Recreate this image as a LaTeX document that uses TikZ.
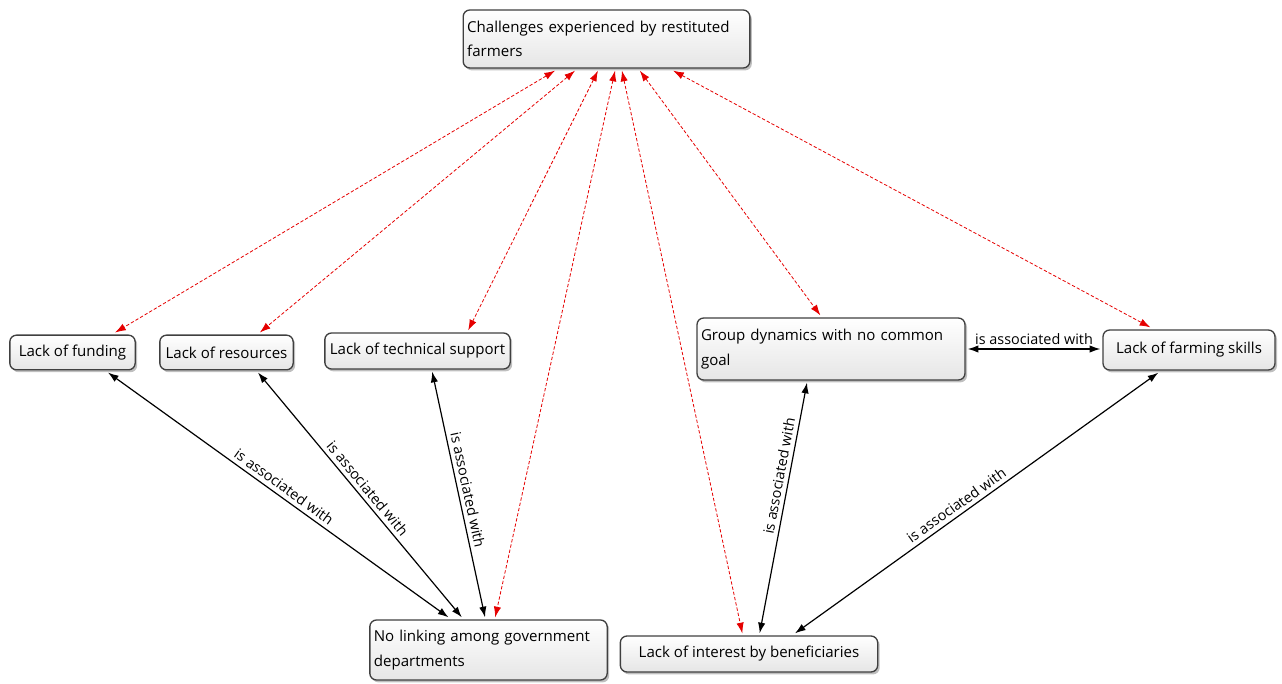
\documentclass[tikz,border=0pt]{standalone}
\usepackage{fontspec}
\setmainfont{Open Sans}
\usetikzlibrary{arrows.meta,shadows}

\begin{document}
\begin{tikzpicture}[
                x=0.75pt, y=-0.75pt,
                font=\fontsize{11.3}{18.5}\selectfont,
                concept/.style={rectangle, draw=black!75, line width=1pt, rounded corners=5pt, top color=white, bottom color=gray!20, drop shadow={shadow xshift=1.5pt, shadow yshift=-1.8pt, fill=black!50}, align=left, inner xsep=3pt, inner ysep=2pt, outer sep=2pt},
                link/.style={{Latex[length=8pt,width=5.5pt]}-{Latex[length=8pt,width=5.5pt]}, red!90!black, line width=0.6pt, dash pattern=on 2.5pt off 1.5pt},
                assoc/.style={{Latex[length=8pt,width=5.5pt]}-{Latex[length=8pt,width=5.5pt]}, black, line width=0.9pt},
                lbl/.style={sloped, above, inner sep=3pt, font=\fontsize{10.8}{12}\selectfont},
            ]
            \useasboundingbox (0,0) rectangle (1282,684);

            \node[concept, text width=209pt, minimum height=43.5pt] (top) at (606.5,39) {Challenges experienced by restituted\\farmers};
            \node[concept, minimum width=94pt, minimum height=26pt]  (funding)   at (72.5,352.5) {Lack of funding};
            \node[concept, minimum width=100pt, minimum height=26pt] (resources) at (226.5,352.5) {Lack of resources};
            \node[concept, minimum width=139pt, minimum height=27pt] (technical) at (417.5,351) {Lack of technical support};
            \node[concept, text width=195pt, minimum height=46.5pt]  (group)     at (831,349) {Group dynamics with no common\\goal};
            \node[concept, minimum width=129pt, minimum height=30pt] (farming)   at (1189,350) {Lack of farming skills};
            \node[concept, text width=172pt, minimum height=45pt]    (nolink)    at (488.5,650) {No linking among government\\departments};
            \node[concept, minimum width=193pt, minimum height=27pt] (interest)  at (749,654) {Lack of interest by beneficiaries};

            \draw[link] ([xshift=-38.6pt]top.south) -- ([xshift=32pt]funding.north);
            \draw[link] ([xshift=-23.6pt]top.south) -- ([xshift=25pt]resources.north);
            \draw[link] ([xshift=-6.4pt]top.south) -- ([xshift=38pt]technical.north);
            \draw[link] ([xshift=6.4pt]top.south) -- ([xshift=5pt]nolink.north);
            \draw[link] ([xshift=11.6pt]top.south) -- ([xshift=-5pt]interest.north);
            \draw[link] ([xshift=25pt]top.south) -- ([xshift=-8pt]group.north);
            \draw[link] ([xshift=50pt]top.south) -- ([xshift=-29pt]farming.north);

            \draw[assoc] ([xshift=26.6pt]funding.south) -- node[lbl, pos=0.5]{is associated with} ([xshift=-30pt]nolink.north);
            \draw[assoc] ([xshift=23.6pt]resources.south) -- node[lbl, pos=0.5]{is associated with} ([xshift=-20pt]nolink.north);
            \draw[assoc] ([xshift=11pt]technical.south) -- node[lbl, pos=0.49]{is associated with} ([xshift=-2.6pt]nolink.north);
            \draw[assoc] ([xshift=8pt]interest.north) -- node[lbl, pos=0.62]{is associated with} ([xshift=-18pt]group.south);
            \draw[assoc] ([xshift=34.5pt]interest.north) -- node[lbl, pos=0.46]{is associated with} ([xshift=-23pt]farming.south);
            \draw[assoc] (group.east) -- node[lbl]{is associated with} (group.east -| farming.west);
        \end{tikzpicture}
\end{document}
